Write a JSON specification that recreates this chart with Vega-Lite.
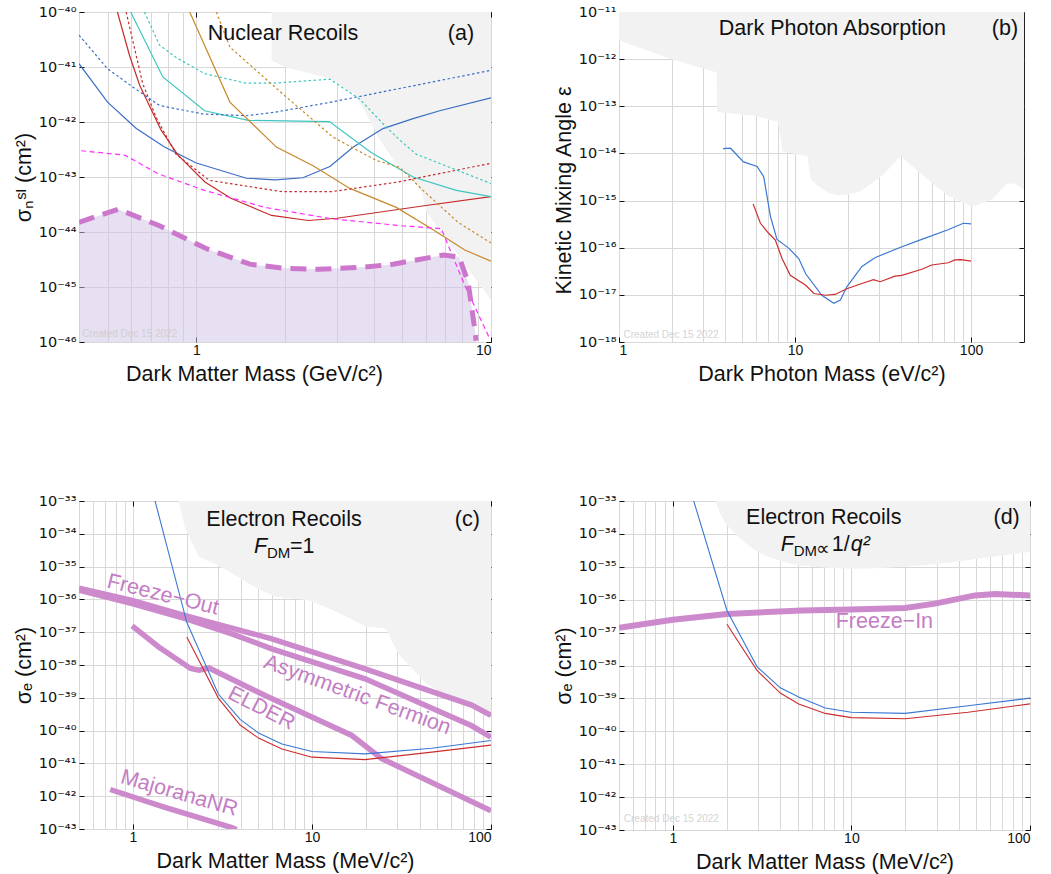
{
 "$schema": "https://vega.github.io/schema/vega-lite/v6.json",
 "background": "white",
 "padding": {"left": 12, "top": 3, "right": 5, "bottom": 5},
 "config": {
  "font": "Liberation Sans",
  "view": {"stroke": "#222222", "strokeWidth": 1},
  "axis": {"grid": true, "gridColor": "#d8d8d8", "gridWidth": 1, "ticks": true, "tickSize": -5, "tickColor": "#111111", "tickWidth": 1, "domain": false, "labelFont": "Liberation Sans", "labelFontSize": 14, "labelColor": "#111111", "titleFont": "Liberation Sans", "titleFontSize": 21.5, "titleFontWeight": "normal", "titleColor": "#111111"},
  "axisX": {"labelPadding": 6, "titlePadding": 6},
  "axisY": {"labelPadding": 8, "titlePadding": 3, "labelFont": "DejaVu Sans", "labelFontSize": 14.5},
  "line": {"strokeCap": "butt"}
 },
 "columns": 2,
 "spacing": {"row": 159, "column": 128},
 "bounds": "flush",
 "resolve": {"scale": {"x": "independent", "y": "independent", "color": "independent"}},
 "datasets": {
  "a_grey": [
   {"m": 1.8, "s": 1e-40}, {"m": 1.801, "s": 1.32e-41}, {"m": 1.97, "s": 1.02e-41}, {"m": 2.84, "s": 6.2e-42}, {"m": 3.45, "s": 3.2e-42}, {"m": 3.78, "s": 1.4e-42}, {"m": 4.2, "s": 4.7e-43}, {"m": 4.77, "s": 1.74e-43}, {"m": 5.58, "s": 7.6e-44}, {"m": 5.84, "s": 4.9e-44}, {"m": 6.04, "s": 2.3e-44}, {"m": 10, "s": 5.8e-46}
  ],
  "a_lines": [
   {"series": "bs", "m": 0.4, "s": 1.15e-41}, {"series": "bs", "m": 0.5, "s": 2.3e-42}, {"series": "bs", "m": 0.626, "s": 7.6e-43}, {"series": "bs", "m": 0.78, "s": 3.5e-43}, {"series": "bs", "m": 1.0, "s": 1.8e-43}, {"series": "bs", "m": 1.48, "s": 9.5e-44}, {"series": "bs", "m": 1.85, "s": 8.9e-44}, {"series": "bs", "m": 2.3, "s": 9.7e-44}, {"series": "bs", "m": 2.84, "s": 1.55e-43}, {"series": "bs", "m": 3.41, "s": 3.5e-43}, {"series": "bs", "m": 4.3, "s": 7.6e-43}, {"series": "bs", "m": 5.44, "s": 1.15e-42}, {"series": "bs", "m": 6.7, "s": 1.6e-42}, {"series": "bs", "m": 10, "s": 2.75e-42},
   {"series": "bd", "m": 0.4, "s": 3.8e-41}, {"series": "bd", "m": 0.5, "s": 9.3e-42}, {"series": "bd", "m": 0.61, "s": 4.3e-42}, {"series": "bd", "m": 0.75, "s": 2.0e-42}, {"series": "bd", "m": 1.05, "s": 1.4e-42}, {"series": "bd", "m": 1.48, "s": 1.3e-42}, {"series": "bd", "m": 1.84, "s": 1.5e-42}, {"series": "bd", "m": 2.87, "s": 2.3e-42}, {"series": "bd", "m": 10, "s": 8.7e-42},
   {"series": "rs", "m": 0.54, "s": 1e-40}, {"series": "rs", "m": 0.594, "s": 1.6e-41}, {"series": "rs", "m": 0.643, "s": 4.6e-42}, {"series": "rs", "m": 0.76, "s": 7.1e-43}, {"series": "rs", "m": 0.867, "s": 2.5e-43}, {"series": "rs", "m": 1.07, "s": 8.1e-44}, {"series": "rs", "m": 1.31, "s": 4.1e-44}, {"series": "rs", "m": 1.8, "s": 2.0e-44}, {"series": "rs", "m": 2.4, "s": 1.62e-44}, {"series": "rs", "m": 3.0, "s": 1.78e-44}, {"series": "rs", "m": 5.94, "s": 3.0e-44}, {"series": "rs", "m": 10, "s": 4.4e-44},
   {"series": "rd", "m": 0.578, "s": 1e-40}, {"series": "rd", "m": 0.658, "s": 5.0e-42}, {"series": "rd", "m": 0.73, "s": 1.23e-42}, {"series": "rd", "m": 0.853, "s": 2.6e-43}, {"series": "rd", "m": 1.107, "s": 8.7e-44}, {"series": "rd", "m": 1.96, "s": 5.4e-44}, {"series": "rd", "m": 2.87, "s": 5.4e-44}, {"series": "rd", "m": 4.83, "s": 8.1e-44}, {"series": "rd", "m": 10, "s": 1.78e-43},
   {"series": "cs", "m": 0.599, "s": 1e-40}, {"series": "cs", "m": 0.77, "s": 6.6e-42}, {"series": "cs", "m": 1.067, "s": 1.6e-42}, {"series": "cs", "m": 1.5, "s": 1.07e-42}, {"series": "cs", "m": 2.83, "s": 1.02e-42}, {"series": "cs", "m": 3.92, "s": 2.8e-43}, {"series": "cs", "m": 5.44, "s": 1.0e-43}, {"series": "cs", "m": 7.63, "s": 5.7e-44}, {"series": "cs", "m": 10, "s": 4.4e-44},
   {"series": "cd", "m": 0.667, "s": 1e-40}, {"series": "cd", "m": 0.75, "s": 2.5e-41}, {"series": "cd", "m": 0.853, "s": 1.5e-41}, {"series": "cd", "m": 1.064, "s": 7.6e-42}, {"series": "cd", "m": 1.47, "s": 5.1e-42}, {"series": "cd", "m": 1.84, "s": 5.1e-42}, {"series": "cd", "m": 2.84, "s": 6.0e-42}, {"series": "cd", "m": 2.99, "s": 5.0e-42}, {"series": "cd", "m": 3.59, "s": 2.6e-42}, {"series": "cd", "m": 4.3, "s": 9.3e-43}, {"series": "cd", "m": 4.9, "s": 4.7e-43}, {"series": "cd", "m": 5.58, "s": 2.6e-43}, {"series": "cd", "m": 10, "s": 7.6e-44},
   {"series": "os", "m": 0.95, "s": 1e-40}, {"series": "os", "m": 1.3, "s": 2.3e-42}, {"series": "os", "m": 1.87, "s": 3.5e-43}, {"series": "os", "m": 2.49, "s": 1.6e-43}, {"series": "os", "m": 3.32, "s": 6.2e-44}, {"series": "os", "m": 4.77, "s": 2.8e-44}, {"series": "os", "m": 6.28, "s": 1.15e-44}, {"series": "os", "m": 8.15, "s": 4.7e-45}, {"series": "os", "m": 10, "s": 2.95e-45},
   {"series": "od", "m": 1.17, "s": 1e-40}, {"series": "od", "m": 1.3, "s": 2.3e-41}, {"series": "od", "m": 1.97, "s": 3.2e-42}, {"series": "od", "m": 2.91, "s": 5.3e-43}, {"series": "od", "m": 4.08, "s": 2.0e-43}, {"series": "od", "m": 4.9, "s": 1.5e-43}, {"series": "od", "m": 5.88, "s": 5.7e-44}, {"series": "od", "m": 7.73, "s": 1.5e-44}, {"series": "od", "m": 10, "s": 6.3e-45},
   {"series": "md", "m": 0.407, "s": 3.0e-43}, {"series": "md", "m": 0.572, "s": 2.5e-43}, {"series": "md", "m": 0.741, "s": 1.15e-43}, {"series": "md", "m": 1.067, "s": 5.7e-44}, {"series": "md", "m": 1.71, "s": 2.8e-44}, {"series": "md", "m": 2.87, "s": 1.74e-44}, {"series": "md", "m": 4.97, "s": 1.3e-44}, {"series": "md", "m": 6.78, "s": 1.15e-44}, {"series": "md", "m": 7.15, "s": 5.8e-45}, {"series": "md", "m": 8.15, "s": 1.07e-45}, {"series": "md", "m": 9.9, "s": 1.15e-46},
   {"series": "pd", "m": 0.4, "s": 1.5e-44}, {"series": "pd", "m": 0.543, "s": 2.6e-44}, {"series": "pd", "m": 0.75, "s": 1.3e-44}, {"series": "pd", "m": 1.08, "s": 5.0e-45}, {"series": "pd", "m": 1.52, "s": 2.6e-45}, {"series": "pd", "m": 1.97, "s": 2.2e-45}, {"series": "pd", "m": 2.6, "s": 2.1e-45}, {"series": "pd", "m": 3.72, "s": 2.3e-45}, {"series": "pd", "m": 4.65, "s": 2.6e-45}, {"series": "pd", "m": 6.88, "s": 3.8e-45}, {"series": "pd", "m": 7.8, "s": 3.5e-45}, {"series": "pd", "m": 8.36, "s": 1.23e-45}, {"series": "pd", "m": 8.81, "s": 1.7e-46}, {"series": "pd", "m": 8.9, "s": 1.05e-46}
  ],
  "b_grey": [
   {"m": 1, "s": 2.5e-12}, {"m": 2.0, "s": 1.0e-12}, {"m": 3.59, "s": 5.2e-13}, {"m": 3.6, "s": 7.6e-14}, {"m": 5.96, "s": 6.2e-14}, {"m": 8.0, "s": 4.7e-14}, {"m": 8.5, "s": 1.1e-14}, {"m": 11.75, "s": 8.7e-15}, {"m": 12.3, "s": 2.8e-15}, {"m": 13.4, "s": 2.1e-15}, {"m": 15.5, "s": 1.45e-15}, {"m": 17.7, "s": 1.3e-15}, {"m": 20.1, "s": 1.35e-15}, {"m": 23.4, "s": 1.55e-15}, {"m": 31.7, "s": 3.5e-15}, {"m": 40.2, "s": 9.1e-15}, {"m": 41.9, "s": 7.4e-15}, {"m": 55.5, "s": 3.0e-15}, {"m": 75, "s": 1.23e-15}, {"m": 101.6, "s": 7.4e-16}, {"m": 131.6, "s": 1.05e-15}, {"m": 159.8, "s": 2.3e-15}, {"m": 177, "s": 2.3e-15}, {"m": 200, "s": 1.7e-15}
  ],
  "b_lines": [
   {"series": "bb", "m": 3.9, "s": 1.26e-14}, {"series": "bb", "m": 4.3, "s": 1.29e-14}, {"series": "bb", "m": 5.1, "s": 6.6e-15}, {"series": "bb", "m": 6.09, "s": 5.3e-15}, {"series": "bb", "m": 6.64, "s": 3.2e-15}, {"series": "bb", "m": 7.25, "s": 4.6e-16}, {"series": "bb", "m": 7.9, "s": 1.5e-16}, {"series": "bb", "m": 9.2, "s": 9.8e-17}, {"series": "bb", "m": 10.5, "s": 5.9e-17}, {"series": "bb", "m": 11.5, "s": 2.8e-17}, {"series": "bb", "m": 14.2, "s": 9.8e-18}, {"series": "bb", "m": 16.6, "s": 6.6e-18}, {"series": "bb", "m": 18.1, "s": 7.8e-18}, {"series": "bb", "m": 19.7, "s": 1.48e-17}, {"series": "bb", "m": 24, "s": 4.0e-17}, {"series": "bb", "m": 28.6, "s": 6.2e-17}, {"series": "bb", "m": 40.5, "s": 1.05e-16}, {"series": "bb", "m": 52.5, "s": 1.5e-16}, {"series": "bb", "m": 74, "s": 2.4e-16}, {"series": "bb", "m": 90.5, "s": 3.3e-16}, {"series": "bb", "m": 100, "s": 3.2e-16},
   {"series": "br", "m": 5.78, "s": 8.5e-16}, {"series": "br", "m": 6.36, "s": 3.3e-16}, {"series": "br", "m": 7.1, "s": 2.0e-16}, {"series": "br", "m": 7.73, "s": 1.45e-16}, {"series": "br", "m": 8.44, "s": 5.9e-17}, {"series": "br", "m": 9.4, "s": 2.6e-17}, {"series": "br", "m": 11.5, "s": 1.6e-17}, {"series": "br", "m": 12.8, "s": 1.07e-17}, {"series": "br", "m": 14.9, "s": 9.8e-18}, {"series": "br", "m": 16.9, "s": 1.02e-17}, {"series": "br", "m": 19.7, "s": 1.35e-17}, {"series": "br", "m": 24, "s": 1.74e-17}, {"series": "br", "m": 27.9, "s": 2.1e-17}, {"series": "br", "m": 30.5, "s": 1.9e-17}, {"series": "br", "m": 37, "s": 2.5e-17}, {"series": "br", "m": 40.5, "s": 2.6e-17}, {"series": "br", "m": 52.5, "s": 3.5e-17}, {"series": "br", "m": 59.8, "s": 4.3e-17}, {"series": "br", "m": 74.4, "s": 4.8e-17}, {"series": "br", "m": 81, "s": 5.5e-17}, {"series": "br", "m": 88, "s": 5.6e-17}, {"series": "br", "m": 100, "s": 5.2e-17}
  ],
  "c_grey": [
   {"m": 1.8, "s": 1e-33}, {"m": 1.84, "s": 5.9e-34}, {"m": 1.96, "s": 1.45e-34}, {"m": 2.33, "s": 2.0e-35}, {"m": 2.9, "s": 1.2e-35}, {"m": 3.7, "s": 5.5e-36}, {"m": 5.06, "s": 2.0e-36}, {"m": 6.27, "s": 1.2e-36}, {"m": 9.6, "s": 9.5e-37}, {"m": 12.8, "s": 5.0e-37}, {"m": 20, "s": 1.5e-37}, {"m": 25.8, "s": 1.3e-37}, {"m": 30.4, "s": 2.2e-38}, {"m": 42.8, "s": 3.0e-39}, {"m": 55.4, "s": 1.17e-39}, {"m": 78, "s": 6.5e-40}, {"m": 100, "s": 3.6e-40}
  ],
  "c_lines": [
   {"series": "cb", "m": 1.33, "s": 1e-33}, {"series": "cb", "m": 2.0, "s": 2.0e-37}, {"series": "cb", "m": 3.0, "s": 1.3e-39}, {"series": "cb", "m": 3.97, "s": 2.2e-40}, {"series": "cb", "m": 5.03, "s": 8.5e-41}, {"series": "cb", "m": 6.8, "s": 3.9e-41}, {"series": "cb", "m": 10, "s": 2.3e-41}, {"series": "cb", "m": 19.8, "s": 1.95e-41}, {"series": "cb", "m": 46.7, "s": 2.9e-41}, {"series": "cb", "m": 100, "s": 5.0e-41},
   {"series": "cr", "m": 2.0, "s": 7.1e-38}, {"series": "cr", "m": 3.0, "s": 9.8e-40}, {"series": "cr", "m": 3.97, "s": 1.48e-40}, {"series": "cr", "m": 5.03, "s": 5.9e-41}, {"series": "cr", "m": 6.8, "s": 2.75e-41}, {"series": "cr", "m": 10, "s": 1.55e-41}, {"series": "cr", "m": 19.8, "s": 1.3e-41}, {"series": "cr", "m": 46.7, "s": 2.2e-41}, {"series": "cr", "m": 100, "s": 3.6e-41},
   {"series": "fo", "m": 0.5, "s": 2.2e-36}, {"series": "fo", "m": 0.99, "s": 9.3e-37}, {"series": "fo", "m": 1.96, "s": 3.2e-37}, {"series": "fo", "m": 5.97, "s": 6.3e-38}, {"series": "fo", "m": 19.8, "s": 7.6e-39}, {"series": "fo", "m": 78, "s": 6.0e-40}, {"series": "fo", "m": 100, "s": 2.9e-40},
   {"series": "af", "m": 0.5, "s": 1.9e-36}, {"series": "af", "m": 0.99, "s": 7.4e-37}, {"series": "af", "m": 1.96, "s": 2.6e-37}, {"series": "af", "m": 3.57, "s": 8.9e-38}, {"series": "af", "m": 5.97, "s": 3.1e-38}, {"series": "af", "m": 19.8, "s": 3.8e-39}, {"series": "af", "m": 78, "s": 1.4e-40}, {"series": "af", "m": 100, "s": 6.3e-41},
   {"series": "el", "m": 0.99, "s": 1.55e-37}, {"series": "el", "m": 1.4, "s": 3.5e-38}, {"series": "el", "m": 2.1, "s": 7.8e-39}, {"series": "el", "m": 2.34, "s": 6.9e-39}, {"series": "el", "m": 2.66, "s": 8.1e-39}, {"series": "el", "m": 5.48, "s": 1.17e-39}, {"series": "el", "m": 16.7, "s": 7.1e-41}, {"series": "el", "m": 24.5, "s": 1.4e-41}, {"series": "el", "m": 100, "s": 3.6e-43},
   {"series": "mj", "m": 0.747, "s": 1.6e-42}, {"series": "mj", "m": 1.51, "s": 4.6e-43}, {"series": "mj", "m": 3.57, "s": 1.1e-43}, {"series": "mj", "m": 3.8, "s": 9.5e-44}
  ],
  "d_grey": [
   {"m": 1.73, "s": 1e-33}, {"m": 1.89, "s": 3.2e-34}, {"m": 2.24, "s": 1.02e-34}, {"m": 2.9, "s": 3.2e-35}, {"m": 4.27, "s": 1.38e-35}, {"m": 6.55, "s": 9.8e-36}, {"m": 10.1, "s": 8.7e-36}, {"m": 15.5, "s": 9.3e-36}, {"m": 23.8, "s": 1.1e-35}, {"m": 36.5, "s": 1.38e-35}, {"m": 56, "s": 1.9e-35}, {"m": 100, "s": 2.8e-35}
  ],
  "d_lines": [
   {"series": "db", "m": 1.31, "s": 1e-33}, {"series": "db", "m": 2.01, "s": 4.7e-37}, {"series": "db", "m": 2.96, "s": 9.3e-39}, {"series": "db", "m": 4.0, "s": 2.1e-39}, {"series": "db", "m": 5.07, "s": 1.1e-39}, {"series": "db", "m": 7.14, "s": 5.1e-40}, {"series": "db", "m": 10, "s": 3.8e-40}, {"series": "db", "m": 20, "s": 3.5e-40}, {"series": "db", "m": 45, "s": 6.0e-40}, {"series": "db", "m": 100, "s": 1.02e-39},
   {"series": "dr", "m": 2.01, "s": 1.8e-37}, {"series": "dr", "m": 2.96, "s": 7.1e-39}, {"series": "dr", "m": 4.0, "s": 1.45e-39}, {"series": "dr", "m": 5.07, "s": 6.8e-40}, {"series": "dr", "m": 7.14, "s": 3.5e-40}, {"series": "dr", "m": 10, "s": 2.6e-40}, {"series": "dr", "m": 20, "s": 2.4e-40}, {"series": "dr", "m": 45, "s": 3.8e-40}, {"series": "dr", "m": 100, "s": 6.8e-40},
   {"series": "fi", "m": 0.5, "s": 1.4e-37}, {"series": "fi", "m": 1, "s": 2.45e-37}, {"series": "fi", "m": 2.01, "s": 3.7e-37}, {"series": "fi", "m": 5.29, "s": 4.7e-37}, {"series": "fi", "m": 10, "s": 5.0e-37}, {"series": "fi", "m": 20, "s": 5.6e-37}, {"series": "fi", "m": 29.4, "s": 7.6e-37}, {"series": "fi", "m": 49.2, "s": 1.35e-36}, {"series": "fi", "m": 63.7, "s": 1.5e-36}, {"series": "fi", "m": 100, "s": 1.35e-36}
  ]
 },
 "concat": [
  {
   "width": 412, "height": 330,
   "resolve": {"axis": {"x": "independent", "y": "independent"}},
   "layer": [
    {
     "encoding": {
      "x": {"field": "m", "type": "quantitative", "scale": {"type": "log", "domain": [0.4, 10], "nice": false}, "axis": {"values": [0.4, 0.5, 0.6, 0.7, 0.8, 0.9, 1, 2, 3, 4, 5, 6, 7, 8, 9, 10], "labelExpr": "datum.value==1?'1':datum.value==10?'10':''", "tickOpacity": {"condition": {"test": "datum.value==1||datum.value==10", "value": 1}, "value": 0}, "title": "Dark Matter Mass (GeV/c²)", "titleX": 175}},
      "y": {"field": "s", "type": "quantitative", "scale": {"type": "log", "domain": [1e-46, 1e-40], "nice": false}, "axis": {"values": [1e-46, 1e-45, 1e-44, 1e-43, 1e-42, 1e-41, 1e-40], "labelExpr": "'10'+replace(replace(replace(replace(replace(replace(replace(replace(replace(replace(replace(toString(round(log(datum.value)/LN10)),'-','⁻'),regexp('0','g'),'⁰'),regexp('1','g'),'¹'),regexp('2','g'),'²'),regexp('3','g'),'³'),regexp('4','g'),'⁴'),regexp('5','g'),'⁵'),regexp('6','g'),'⁶'),regexp('7','g'),'⁷'),regexp('8','g'),'⁸'),regexp('9','g'),'⁹')", "title": "σₙˢᴵ (cm²)"}}
     },
     "layer": [
      {"data": {"name": "a_grey"}, "mark": {"type": "area", "fill": "#f2f2f2", "clip": true}, "encoding": {"y2": {"datum": 1e-40}}},
      {"data": {"name": "a_lines"}, "transform": [{"filter": "datum.series=='pd'"}], "mark": {"type": "area", "fill": "#cfbfe6", "opacity": 0.5, "clip": true}, "encoding": {"y2": {"datum": 1e-46}}},
      {"data": {"name": "a_lines"}, "transform": [{"filter": "indexof(['bs','rs','cs','os'], datum.series) >= 0"}], "mark": {"type": "line", "clip": true, "strokeWidth": 1.2}, "encoding": {
       "color": {"field": "series", "type": "nominal", "legend": null, "scale": {"domain": ["bs", "bd", "rs", "rd", "cs", "cd", "os", "od", "md", "pd"], "range": ["#3a6cc6", "#3a6cc6", "#c42b2b", "#c42b2b", "#3cc6bf", "#3cc6bf", "#c8882c", "#c8882c", "#ff2dff", "#cc77cc"]}}
      }},
      {"data": {"name": "a_lines"}, "transform": [{"filter": "indexof(['bd','rd','cd','od'], datum.series) >= 0"}], "mark": {"type": "line", "clip": true, "strokeWidth": 1.2, "strokeDash": [2.5, 2.5]}, "encoding": {"color": {"field": "series", "type": "nominal", "legend": null}}},
      {"data": {"name": "a_lines"}, "transform": [{"filter": "datum.series=='md'"}], "mark": {"type": "line", "clip": true, "strokeWidth": 1.2, "strokeDash": [5, 3.5]}, "encoding": {"color": {"field": "series", "type": "nominal", "legend": null}}},
      {"data": {"name": "a_lines"}, "transform": [{"filter": "datum.series=='pd'"}], "mark": {"type": "line", "clip": true, "strokeWidth": 5, "strokeDash": [16, 9]}, "encoding": {"color": {"field": "series", "type": "nominal", "legend": null}}},
      {"data": {"values": [{"m": 1.97, "s": 4e-41, "label": "Nuclear Recoils"}, {"m": 7.91, "s": 4e-41, "label": "(a)"}]}, "mark": {"type": "text", "fontSize": 21.5, "color": "#111111"}, "encoding": {"text": {"field": "label"}}},
      {"data": {"values": [{"m": 0.41, "s": 1.12e-46, "label": "Created Dec 15 2022"}]}, "mark": {"type": "text", "fontSize": 10, "align": "left", "baseline": "bottom", "color": "#cfcfcf"}, "encoding": {"text": {"field": "label"}}}
     ]
    },
    {"data": {"name": "a_grey"}, "mark": {"type": "point", "opacity": 0}, "encoding": {
     "x": {"field": "m", "type": "quantitative", "scale": {"type": "log", "domain": [0.4, 10], "nice": false}, "axis": {"orient": "top", "values": [1, 10], "labels": false, "grid": false, "title": null}},
     "y": {"field": "s", "type": "quantitative", "scale": {"type": "log", "domain": [1e-46, 1e-40], "nice": false}, "axis": {"orient": "right", "values": [1e-46, 1e-45, 1e-44, 1e-43, 1e-42, 1e-41, 1e-40], "labels": false, "grid": false, "title": null}}
    }}
   ]
  },
  {
   "width": 405, "height": 330,
   "resolve": {"axis": {"x": "independent", "y": "independent"}},
   "layer": [
    {
     "encoding": {
      "x": {"field": "m", "type": "quantitative", "scale": {"type": "log", "domain": [1, 200], "nice": false}, "axis": {"values": [1, 2, 3, 4, 5, 6, 7, 8, 9, 10, 20, 30, 40, 50, 60, 70, 80, 90, 100], "labelExpr": "datum.value==1?'1':datum.value==10?'10':datum.value==100?'100':''", "tickOpacity": {"condition": {"test": "datum.value==1||datum.value==10||datum.value==100", "value": 1}, "value": 0}, "title": "Dark Photon Mass (eV/c²)"}},
      "y": {"field": "s", "type": "quantitative", "scale": {"type": "log", "domain": [1e-18, 1e-11], "nice": false}, "axis": {"values": [1e-18, 1e-17, 1e-16, 1e-15, 1e-14, 1e-13, 1e-12, 1e-11], "labelExpr": "'10'+replace(replace(replace(replace(replace(replace(replace(replace(replace(replace(replace(toString(round(log(datum.value)/LN10)),'-','⁻'),regexp('0','g'),'⁰'),regexp('1','g'),'¹'),regexp('2','g'),'²'),regexp('3','g'),'³'),regexp('4','g'),'⁴'),regexp('5','g'),'⁵'),regexp('6','g'),'⁶'),regexp('7','g'),'⁷'),regexp('8','g'),'⁸'),regexp('9','g'),'⁹')", "title": "Kinetic Mixing Angle ε", "titleY": 178}}
     },
     "layer": [
      {"data": {"name": "b_grey"}, "mark": {"type": "area", "fill": "#f2f2f2", "clip": true}, "encoding": {"y2": {"datum": 1e-11}}},
      {"data": {"name": "b_lines"}, "mark": {"type": "line", "clip": true, "strokeWidth": 1.2}, "encoding": {
       "color": {"field": "series", "type": "nominal", "legend": null, "scale": {"domain": ["bb", "br"], "range": ["#3a78d4", "#cc2d2d"]}}
      }},
      {"data": {"values": [{"m": 16.3, "s": 4.4e-12, "label": "Dark Photon Absorption"}, {"m": 156, "s": 4.4e-12, "label": "(b)"}]}, "mark": {"type": "text", "fontSize": 21.5, "color": "#111111"}, "encoding": {"text": {"field": "label"}}},
      {"data": {"values": [{"m": 1.06, "s": 1.12e-18, "label": "Created Dec 15 2022"}]}, "mark": {"type": "text", "fontSize": 10, "align": "left", "baseline": "bottom", "color": "#d4d4d4"}, "encoding": {"text": {"field": "label"}}}
     ]
    },
    {"data": {"name": "b_grey"}, "mark": {"type": "point", "opacity": 0}, "encoding": {
     "x": {"field": "m", "type": "quantitative", "scale": {"type": "log", "domain": [1, 200], "nice": false}, "axis": {"orient": "top", "values": [10, 100], "labels": false, "grid": false, "title": null}},
     "y": {"field": "s", "type": "quantitative", "scale": {"type": "log", "domain": [1e-18, 1e-11], "nice": false}, "axis": {"orient": "right", "values": [1e-18, 1e-17, 1e-16, 1e-15, 1e-14, 1e-13, 1e-12, 1e-11], "labels": false, "grid": false, "title": null}}
    }}
   ]
  },
  {
   "width": 412, "height": 328,
   "resolve": {"axis": {"x": "independent", "y": "independent"}},
   "layer": [
    {
     "encoding": {
      "x": {"field": "m", "type": "quantitative", "scale": {"type": "log", "domain": [0.5, 100], "nice": false}, "axis": {"values": [0.5, 0.6, 0.7, 0.8, 0.9, 1, 2, 3, 4, 5, 6, 7, 8, 9, 10, 20, 30, 40, 50, 60, 70, 80, 90, 100], "labelExpr": "datum.value==1?'1':datum.value==10?'10':datum.value==100?'100':''", "tickOpacity": {"condition": {"test": "datum.value==1||datum.value==10||datum.value==100", "value": 1}, "value": 0}, "title": "Dark Matter Mass (MeV/c²)"}},
      "y": {"field": "s", "type": "quantitative", "scale": {"type": "log", "domain": [1e-43, 1e-33], "nice": false}, "axis": {"values": [1e-43, 1e-42, 1e-41, 1e-40, 1e-39, 1e-38, 1e-37, 1e-36, 1e-35, 1e-34, 1e-33], "labelExpr": "'10'+replace(replace(replace(replace(replace(replace(replace(replace(replace(replace(replace(toString(round(log(datum.value)/LN10)),'-','⁻'),regexp('0','g'),'⁰'),regexp('1','g'),'¹'),regexp('2','g'),'²'),regexp('3','g'),'³'),regexp('4','g'),'⁴'),regexp('5','g'),'⁵'),regexp('6','g'),'⁶'),regexp('7','g'),'⁷'),regexp('8','g'),'⁸'),regexp('9','g'),'⁹')", "title": "σₑ (cm²)"}}
     },
     "layer": [
      {"data": {"name": "c_grey"}, "mark": {"type": "area", "fill": "#f2f2f2", "clip": true}, "encoding": {"y2": {"datum": 1e-33}}},
      {"data": {"name": "c_lines"}, "transform": [{"filter": "indexof(['fo','af','el','mj'], datum.series) >= 0"}], "mark": {"type": "line", "clip": true, "strokeWidth": 5.5, "stroke": "#cc8acc"}, "encoding": {"detail": {"field": "series", "type": "nominal"}}},
      {"data": {"name": "c_lines"}, "transform": [{"filter": "indexof(['cb','cr'], datum.series) >= 0"}], "mark": {"type": "line", "clip": true, "strokeWidth": 1.1}, "encoding": {
       "color": {"field": "series", "type": "nominal", "legend": null, "scale": {"domain": ["cb", "cr"], "range": ["#3a78d4", "#cc2d2d"]}}
      }},
      {"data": {"values": [{"m": 6.98, "s": 2.6e-34, "label": "Electron Recoils"}, {"m": 73.7, "s": 2.6e-34, "label": "(c)"}]}, "mark": {"type": "text", "fontSize": 21.5, "color": "#111111"}, "encoding": {"text": {"field": "label"}}},
      {"data": {"values": [{"m": 6.98, "s": 4.0e-35, "label": "F"}]}, "mark": {"type": "text", "fontSize": 21.5, "fontStyle": "italic", "align": "left", "dx": -30, "color": "#111111"}, "encoding": {"text": {"field": "label"}}},
      {"data": {"values": [{"m": 6.98, "s": 4.0e-35, "label": "DM"}]}, "mark": {"type": "text", "fontSize": 15, "align": "left", "dx": -17, "dy": 6, "color": "#111111"}, "encoding": {"text": {"field": "label"}}},
      {"data": {"values": [{"m": 6.98, "s": 4.0e-35, "label": "=1"}]}, "mark": {"type": "text", "fontSize": 21.5, "align": "left", "dx": 6, "color": "#111111"}, "encoding": {"text": {"field": "label"}}},
      {"data": {"values": [{"m": 1.47, "s": 1.35e-36, "label": "Freeze−Out"}]}, "mark": {"type": "text", "fontSize": 21.5, "angle": 14, "color": "#c47dc4"}, "encoding": {"text": {"field": "label"}}},
      {"data": {"values": [{"m": 17.9, "s": 1.2e-39, "label": "Asymmetric Fermion"}]}, "mark": {"type": "text", "fontSize": 21.5, "angle": 20, "color": "#c47dc4"}, "encoding": {"text": {"field": "label"}}},
      {"data": {"values": [{"m": 5.21, "s": 4.7e-40, "label": "ELDER"}]}, "mark": {"type": "text", "fontSize": 21.5, "angle": 27, "color": "#c47dc4"}, "encoding": {"text": {"field": "label"}}},
      {"data": {"values": [{"m": 1.81, "s": 1.2e-42, "label": "MajoranaNR"}]}, "mark": {"type": "text", "fontSize": 21.5, "angle": 16, "color": "#c47dc4"}, "encoding": {"text": {"field": "label"}}}
     ]
    },
    {"data": {"name": "c_grey"}, "mark": {"type": "point", "opacity": 0}, "encoding": {
     "x": {"field": "m", "type": "quantitative", "scale": {"type": "log", "domain": [0.5, 100], "nice": false}, "axis": {"orient": "top", "values": [1, 10, 100], "labels": false, "grid": false, "title": null}},
     "y": {"field": "s", "type": "quantitative", "scale": {"type": "log", "domain": [1e-43, 1e-33], "nice": false}, "axis": {"orient": "right", "values": [1e-43, 1e-42, 1e-41, 1e-40, 1e-39, 1e-38, 1e-37, 1e-36, 1e-35, 1e-34, 1e-33], "labels": false, "grid": false, "title": null}}
    }}
   ]
  },
  {
   "width": 411, "height": 329,
   "resolve": {"axis": {"x": "independent", "y": "independent"}},
   "layer": [
    {
     "encoding": {
      "x": {"field": "m", "type": "quantitative", "scale": {"type": "log", "domain": [0.5, 100], "nice": false}, "axis": {"values": [0.5, 0.6, 0.7, 0.8, 0.9, 1, 2, 3, 4, 5, 6, 7, 8, 9, 10, 20, 30, 40, 50, 60, 70, 80, 90, 100], "labelExpr": "datum.value==1?'1':datum.value==10?'10':datum.value==100?'100':''", "tickOpacity": {"condition": {"test": "datum.value==1||datum.value==10||datum.value==100", "value": 1}, "value": 0}, "title": "Dark Matter Mass (MeV/c²)"}},
      "y": {"field": "s", "type": "quantitative", "scale": {"type": "log", "domain": [1e-43, 1e-33], "nice": false}, "axis": {"values": [1e-43, 1e-42, 1e-41, 1e-40, 1e-39, 1e-38, 1e-37, 1e-36, 1e-35, 1e-34, 1e-33], "labelExpr": "'10'+replace(replace(replace(replace(replace(replace(replace(replace(replace(replace(replace(toString(round(log(datum.value)/LN10)),'-','⁻'),regexp('0','g'),'⁰'),regexp('1','g'),'¹'),regexp('2','g'),'²'),regexp('3','g'),'³'),regexp('4','g'),'⁴'),regexp('5','g'),'⁵'),regexp('6','g'),'⁶'),regexp('7','g'),'⁷'),regexp('8','g'),'⁸'),regexp('9','g'),'⁹')", "title": "σₑ (cm²)"}}
     },
     "layer": [
      {"data": {"name": "d_grey"}, "mark": {"type": "area", "fill": "#f2f2f2", "clip": true, "interpolate": "monotone"}, "encoding": {"y2": {"datum": 1e-33}}},
      {"data": {"name": "d_lines"}, "transform": [{"filter": "datum.series=='fi'"}], "mark": {"type": "line", "clip": true, "strokeWidth": 6, "stroke": "#cc8acc"}, "encoding": {}},
      {"data": {"name": "d_lines"}, "transform": [{"filter": "datum.series!='fi'"}], "mark": {"type": "line", "clip": true, "strokeWidth": 1.1}, "encoding": {
       "color": {"field": "series", "type": "nominal", "legend": null, "scale": {"domain": ["db", "dr"], "range": ["#3a78d4", "#cc2d2d"]}}
      }},
      {"data": {"values": [{"m": 7.0, "s": 3.0e-34, "label": "Electron Recoils"}, {"m": 74, "s": 3.0e-34, "label": "(d)"}]}, "mark": {"type": "text", "fontSize": 21.5, "color": "#111111"}, "encoding": {"text": {"field": "label"}}},
      {"data": {"values": [{"m": 7.47, "s": 4.5e-35, "label": "F"}]}, "mark": {"type": "text", "fontSize": 21.5, "fontStyle": "italic", "align": "left", "dx": -48, "color": "#111111"}, "encoding": {"text": {"field": "label"}}},
      {"data": {"values": [{"m": 7.47, "s": 4.5e-35, "label": "DM"}]}, "mark": {"type": "text", "fontSize": 15, "align": "left", "dx": -35, "dy": 6, "color": "#111111"}, "encoding": {"text": {"field": "label"}}},
      {"data": {"values": [{"m": 7.47, "s": 4.5e-35, "label": "∝"}]}, "mark": {"type": "text", "fontSize": 19, "align": "left", "dx": -13, "dy": 4, "color": "#111111"}, "encoding": {"text": {"field": "label"}}},
      {"data": {"values": [{"m": 7.47, "s": 4.5e-35, "label": "1/"}]}, "mark": {"type": "text", "fontSize": 21.5, "align": "left", "dx": 3, "color": "#111111"}, "encoding": {"text": {"field": "label"}}},
      {"data": {"values": [{"m": 7.47, "s": 4.5e-35, "label": "q²"}]}, "mark": {"type": "text", "fontSize": 21.5, "fontStyle": "italic", "align": "left", "dx": 22, "color": "#111111"}, "encoding": {"text": {"field": "label"}}},
      {"data": {"values": [{"m": 15.3, "s": 2.1e-37, "label": "Freeze−In"}]}, "mark": {"type": "text", "fontSize": 21.5, "color": "#c47dc4"}, "encoding": {"text": {"field": "label"}}},
      {"data": {"values": [{"m": 0.532, "s": 1.5e-43, "label": "Created Dec 15 2022"}]}, "mark": {"type": "text", "fontSize": 10, "align": "left", "baseline": "bottom", "color": "#d4d4d4"}, "encoding": {"text": {"field": "label"}}}
     ]
    },
    {"data": {"name": "d_grey"}, "mark": {"type": "point", "opacity": 0}, "encoding": {
     "x": {"field": "m", "type": "quantitative", "scale": {"type": "log", "domain": [0.5, 100], "nice": false}, "axis": {"orient": "top", "values": [1, 10, 100], "labels": false, "grid": false, "title": null}},
     "y": {"field": "s", "type": "quantitative", "scale": {"type": "log", "domain": [1e-43, 1e-33], "nice": false}, "axis": {"orient": "right", "values": [1e-43, 1e-42, 1e-41, 1e-40, 1e-39, 1e-38, 1e-37, 1e-36, 1e-35, 1e-34, 1e-33], "labels": false, "grid": false, "title": null}}
    }}
   ]
  }
 ]
}
